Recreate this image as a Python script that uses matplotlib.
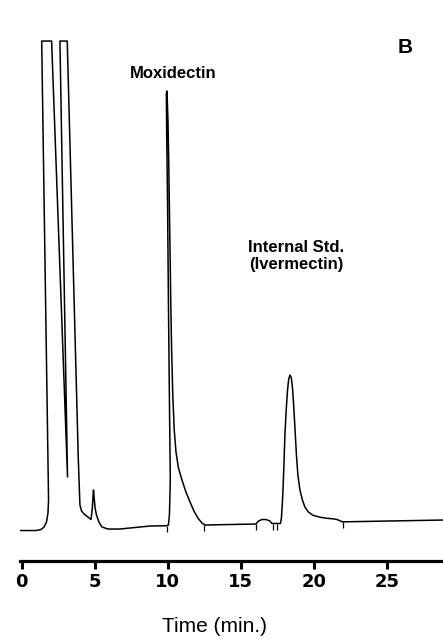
import matplotlib
matplotlib.use("Agg")
import matplotlib.pyplot as plt

# Chromatogram trace (time in min, detector response in arbitrary units)
time_min = [-0.1, 0.98, 1.32, 1.53, 1.70, 1.80, 1.84, 1.80, 1.37, 2.05, 3.14, 2.62, 3.12,
            3.88, 3.99, 4.10, 4.27, 4.54, 4.75, 4.84, 4.89, 4.92, 4.96, 5.03, 5.12, 5.29,
            5.50, 5.91, 6.73, 8.79, 9.93, 10.05, 10.12, 10.18, 10.12, 10.05, 9.99, 9.93,
            9.91, 9.95, 10.02, 10.07, 10.11, 10.16, 10.21, 10.27, 10.35, 10.45, 10.57,
            10.74, 10.98, 11.25, 11.53, 11.80, 12.07, 12.35, 12.55, 14.27, 16.05,
            16.22, 16.46, 16.73, 17.01, 17.14, 17.73, 17.79, 17.85, 17.90, 17.97, 18.03,
            18.12, 18.21, 18.29, 18.38, 18.47, 18.55, 18.63, 18.72, 18.82, 18.92, 19.06,
            19.23, 19.40, 19.64, 19.95, 20.43, 20.91, 21.32, 21.60, 21.80, 21.94, 22.14,
            28.86]
response = [-0.58, -0.58, -0.35, 0.23, 1.38, 3.46, 6.45, 15.67, 112.2, 112.2, 11.75, 112.2, 112.2,
            15.67, 5.30, 3.92, 3.23, 2.53, 1.96, 4.60, 7.60, 8.76, 7.10, 4.60, 3.00, 1.38,
            0.23, -0.23, -0.23, 0.46, 0.53, 0.69, 3.00, 11.06, 29.5, 52.5, 75.6, 91.7,
            100.2, 100.7, 94.0, 84.8, 75.6, 64.1, 52.5, 41.0, 30.6, 22.6, 17.5,
            13.8, 11.06, 8.29, 5.99, 3.92, 2.30, 1.15, 0.69, 0.81, 0.92,
            1.61, 1.96, 1.96, 1.61, 1.04, 1.04, 2.30, 5.30, 8.76, 15.2, 21.4,
            27.2, 31.8, 34.3, 35.25, 34.6, 32.3, 28.3, 23.0, 16.8, 12.2, 8.76,
            6.45, 4.84, 3.69, 2.93, 2.49, 2.24, 2.12, 1.96, 1.68, 1.45, 1.43,
            1.84]

# Integrator event marks (time, baseline level)
event_times = [9.97, 12.51, 16.05, 17.23, 17.47, 22.03]
event_levels = [0.53, 0.69, 0.92, 1.04, 1.04, 1.45]

xticks = [0, 5, 10, 15, 20, 25]
xtick_labels = ["0", "5", "10", "15", "20", "25"]

W, H = 443, 641
fig = plt.figure(figsize=(W / 100, H / 100), dpi=100)
left_px, right_px, bottom_px = 19.5, 443, 560.7
ax = fig.add_axes([left_px / W, (H - bottom_px) / H, (right_px - left_px) / W, bottom_px / H])

ax.plot(time_min, response, color="black", lw=1.1, solid_joinstyle="round")
ax.vlines(event_times, [v - 1.4 for v in event_levels], event_levels, color="black", lw=0.9)

ax.set_xlim(-0.15, 28.86)
ax.set_ylim(-7.53, 121.66)

for s in ["top", "left", "right"]:
    ax.spines[s].set_visible(False)
ax.spines["bottom"].set_linewidth(2.3)
ax.set_yticks([])
ax.set_xticks(xticks)
ax.set_xticklabels(xtick_labels, fontsize=13, fontweight="bold", family="DejaVu Sans")
ax.tick_params(axis="x", direction="out", length=5.5, width=2.2, pad=3)

fig.text(215 / W, 1 - 626.7 / H, "Time (min.)", ha="center", va="center",
         fontsize=15, family="Liberation Sans")

fig.text(173.5 / W, 1 - 74 / H, "Moxidectin", ha="center", va="center",
         fontsize=12, fontweight="bold", family="Liberation Sans")
fig.text(296 / W, 1 - 247 / H, "Internal Std.", ha="center", va="center",
         fontsize=12, fontweight="bold", family="Liberation Sans")
fig.text(296 / W, 1 - 265 / H, "(Ivermectin)", ha="center", va="center",
         fontsize=12, fontweight="bold", family="Liberation Sans")
fig.text(405.5 / W, 1 - 47.5 / H, "B", ha="center", va="center",
         fontsize=15, fontweight="bold", family="Liberation Sans")

fig.savefig("out.png", dpi=100)
